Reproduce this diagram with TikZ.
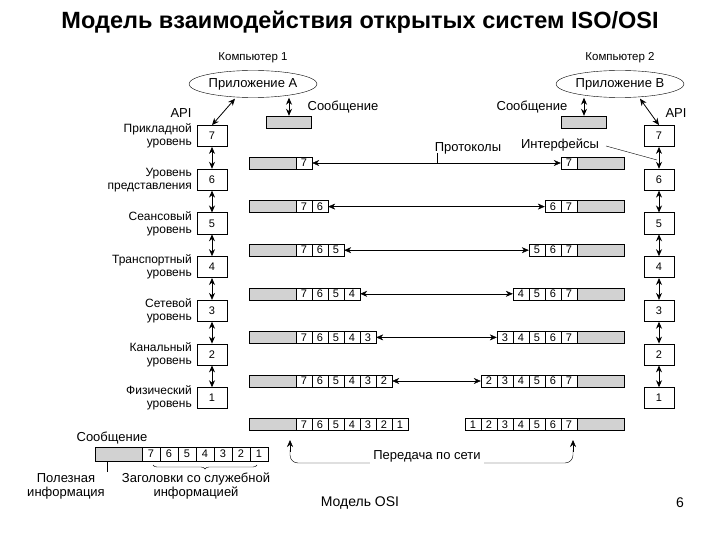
\documentclass[tikz,border=0pt]{standalone}
\usepackage{fontspec}
\setmainfont{Liberation Sans}
\usetikzlibrary{arrows.meta,decorations.pathreplacing,shapes.geometric}
\begin{document}
\begin{tikzpicture}[x=1pt,y=-1pt,>={Stealth[length=7pt,width=6pt]},
  lay/.style={draw,thick,minimum width=30pt,minimum height=21pt,inner sep=0,font=\fontsize{11}{12}\selectfont},
  cell/.style={draw,minimum width=16pt,minimum height=12pt,inner sep=0,font=\fontsize{11}{12}\selectfont},
  shd/.style={draw,minimum width=47pt,minimum height=12pt,inner sep=0,fill=gray!35},
  lbl/.style={font=\fontsize{12}{13}\selectfont,align=right,anchor=east,inner sep=1pt},
  txt/.style={font=\fontsize{13}{14}\selectfont,inner sep=1pt},
  dar/.style={<->,thick}]
\useasboundingbox (0,0) rectangle (720,540);
\node[font=\fontsize{23.5}{26}\selectfont\bfseries] (title) at (360,22) {Модель взаимодействия открытых систем ISO/OSI};
% computers
\node[txt,font=\fontsize{11.5}{12}\selectfont] (c1) at (253,58) {Компьютер 1};
\node[txt,font=\fontsize{11.5}{12}\selectfont] (c2) at (620,58) {Компьютер 2};
\node[draw,ellipse,minimum width=114pt,minimum height=27pt,inner sep=0,txt] (appA) at (253,84) {Приложение A};
\node[draw,ellipse,minimum width=114pt,minimum height=27pt,inner sep=0,txt] (appB) at (620,84) {Приложение B};
\node[shd,minimum width=45pt] (mA) at (289,122) {};
\node[shd,minimum width=45pt] (mB) at (584,122) {};
\draw[dar] (mA.north) -- (mA.north |- appA.south);
\draw[dar] (mB.north) -- (mB.north |- appB.south);
\node[txt] (sA) at (343,107) {Сообщение};
\node[txt] (sB) at (532,107) {Сообщение};
\node[txt] (apiA) at (181,113) {API};
\node[txt] (apiB) at (676,113) {API};
% stacks
\foreach \k/\n in {7/Прикладной\\уровень,6/Уровень\\представления,5/Сеансовый\\уровень,4/Транспортный\\уровень,3/Сетевой\\уровень,2/Канальный\\уровень,1/Физический\\уровень}{
  \pgfmathsetmacro{\yy}{136+(7-\k)*43.7}
  \node[lay] (A\k) at (212,\yy) {\k};
  \node[lay] (B\k) at (659,\yy) {\k};
  \node[lbl] (LA\k) at (193,\yy) {\n};
}
\foreach \k in {7,...,2}{
  \pgfmathtruncatemacro{\m}{\k-1}
  \draw[dar] (A\k.south) -- (A\m.north);
  \draw[dar] (B\k.south) -- (B\m.north);
}
\draw[dar] (appA.south) ++(-18,1) coordinate (ea) -- (A7.north);
\draw[dar] (appB.south) ++(20,1) coordinate (eb) -- (B7.north);
% rows
\foreach \i in {1,...,7}{
  \pgfmathsetmacro{\yy}{163+(\i-1)*43.6}
  \node[shd] (Ls\i) at (272.5,\yy) {};
  \node[shd] (Rs\i) at (600.5,\yy) {};
  \foreach \j in {1,...,\i}{
    \pgfmathtruncatemacro{\v}{8-\j}
    \node[cell] (L\i-\j) at ({296+16*(\j-1)+8},\yy) {\v};
    \node[cell] (R\i-\j) at ({577-16*(\j-1)-8},\yy) {\v};
  }
}
\foreach \i in {1,...,6}{
  \draw[<->] (L\i-\i.east) -- (R\i-\i.west);
}
\node[txt] (prot) at (468,148) {Протоколы};
\draw (437,153) -- (437,163);
\node[txt] (intf) at (560,145) {Интерфейсы};
\draw (606,146) -- (657,160);
% network
\coordinate (n1) at (290,440);
\coordinate (n2) at (573,440);
\draw[->] (290,452) -- (n1);
\draw[->] (573,452) -- (n2);
\draw[rounded corners=8] (290,450) -- (290,463) -- (573,463) -- (573,450);
\node[txt,fill=white,inner sep=3pt] (net) at (427,456) {Передача по сети};
% legend
\node[txt] (msg) at (112,438) {Сообщение};
\node[shd,minimum height=14pt] (Gs) at (118.5,454) {};
\foreach \j in {1,...,7}{
  \pgfmathtruncatemacro{\v}{8-\j}
  \node[cell,minimum width=18pt,minimum height=14pt] (G\j) at ({142+18*(\j-1)+9},454) {\v};
}
\coordinate (gt) at (107,472);
\draw (107,461) -- (gt);
\node[txt,align=center] (pol) at (66,486) {Полезная\\информация};
\draw[decoration={brace,mirror,amplitude=4pt},decorate] (153,465) -- (257,465);
\node[txt,align=center] (zag) at (196,486) {Заголовки со служебной\\информацией};
\node[font=\fontsize{14}{16}\selectfont] (foot) at (360,503) {Модель OSI};
\node[font=\fontsize{14}{16}\selectfont] (pg) at (680,503) {6};
\end{tikzpicture}
\end{document}
